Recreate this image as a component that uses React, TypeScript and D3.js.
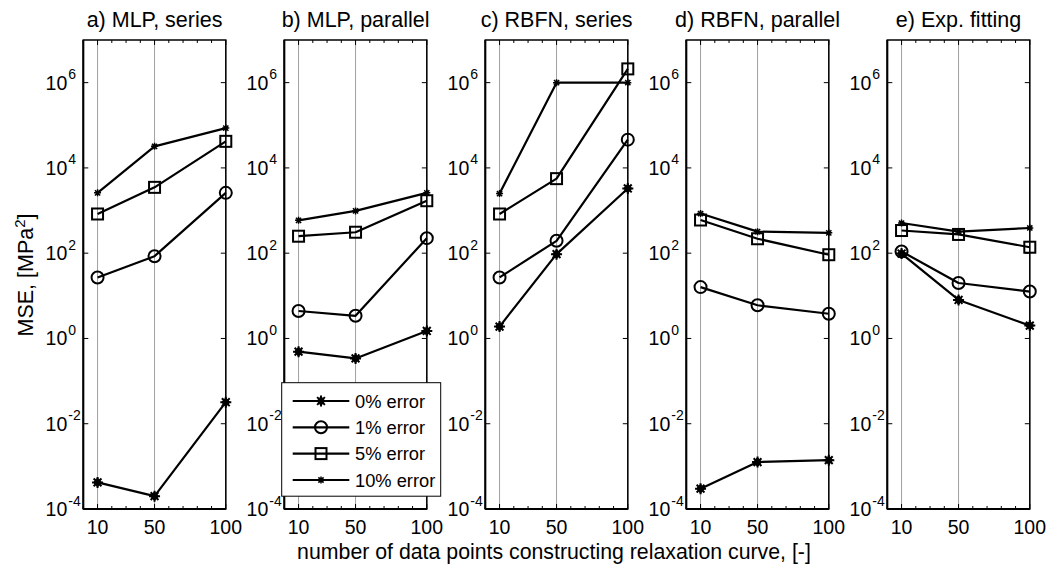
import React from 'react';
import * as d3 from 'd3';

// x positions (number of data points)
const xPoints = [10, 50, 100];

const panelTitles = ['a) MLP, series', 'b) MLP, parallel', 'c) RBFN, series', 'd) RBFN, parallel', 'e) Exp. fitting'];

// MSE per panel (a..e), values at 10 / 50 / 100 points
const mse0 = [
  [4.2e-4, 2e-4, 0.032],
  [0.49, 0.34, 1.5],
  [1.9, 95, 3300],
  [3e-4, 1.26e-3, 1.4e-3],
  [98, 8, 2.0],
];
const mse1 = [
  [27, 85, 2600],
  [4.4, 3.4, 225],
  [27, 195, 4.6e4],
  [16, 6, 3.8],
  [110, 20, 12.6],
];
const mse5 = [
  [830, 3500, 4.2e4],
  [250, 310, 1700],
  [830, 5600, 2.1e6],
  [600, 218, 92],
  [340, 275, 138],
];
const mse10 = [
  [2600, 3.2e4, 8.6e4],
  [590, 980, 2600],
  [2500, 1e6, 1e6],
  [850, 320, 300],
  [510, 320, 390],
];

const seriesNames = ['0% error', '1% error', '5% error', '10% error'];
const seriesMarkers = ['star', 'circle', 'square', 'asterisk'];
const yTickExps = [-4, -2, 0, 2, 4, 6];
const xMinorTicks = d3.range(0, 101, 10);

const FONT = '"Liberation Sans", Arial, sans-serif';

const W = 1055;
const H = 567;
const top = 40;
const bottom = 509;
const panelW = 142.5;
const panelLeft = (i: number) => 83.3 + i * 201;

const x = d3.scaleLinear().domain([0, 100]).range([0, panelW]);
const y = d3.scaleLog().domain([1e-4, 1e7]).range([bottom, top]);

const line = d3.line<[number, number]>()
  .x(d => x(d[0]))
  .y(d => y(d[1]));

function Marker({ kind, cx, cy }: { kind: string; cx: number; cy: number }) {
  if (kind === 'circle') {
    return <circle cx={cx} cy={cy} r={6} fill="none" stroke="#000" strokeWidth={2} />;
  }
  if (kind === 'square') {
    return <rect x={cx - 5.5} y={cy - 5.5} width={11} height={11} fill="none" stroke="#000" strokeWidth={2} />;
  }
  if (kind === 'star') {
    const r = 5.5;
    const d = 3.9;
    return (
      <g stroke="#000" strokeWidth={2}>
        <path d={`M${cx - r},${cy}L${cx + r},${cy}M${cx},${cy - r}L${cx},${cy + r}M${cx - d},${cy - d}L${cx + d},${cy + d}M${cx - d},${cy + d}L${cx + d},${cy - d}`} />
        <path d={`M${cx},${cy - 4.5}L${cx + 4},${cy}L${cx},${cy + 4.5}L${cx - 4},${cy}Z`} fill="#000" strokeWidth={1} />
      </g>
    );
  }
  // small asterisk
  const r = 3.5;
  return (
    <path
      d={`M${cx - r},${cy}L${cx + r},${cy}M${cx - 2.6},${cy - 2.6}L${cx + 2.6},${cy + 2.6}M${cx - 2.6},${cy + 2.6}L${cx + 2.6},${cy - 2.6}M${cx},${cy - r}L${cx},${cy + r}`}
      stroke="#000"
      strokeWidth={1.5}
    />
  );
}

function Panel({ idx }: { idx: number }) {
  const all = [mse0[idx], mse1[idx], mse5[idx], mse10[idx]];
  return (
    <g transform={`translate(${panelLeft(idx)},0)`}>
      {/* vertical grid */}
      {xPoints.map(v => (
        <line key={v} x1={x(v)} x2={x(v)} y1={top} y2={bottom} stroke="#a0a0a0" strokeWidth={1} />
      ))}
      {/* minor x ticks top/bottom */}
      {xMinorTicks.map(v => (
        <g key={v} stroke="#000" strokeWidth={1}>
          <line x1={x(v)} x2={x(v)} y1={bottom} y2={bottom - (xPoints.includes(v) ? 5 : 3)} />
          <line x1={x(v)} x2={x(v)} y1={top} y2={top + (xPoints.includes(v) ? 5 : 3)} />
        </g>
      ))}
      {/* y ticks */}
      {yTickExps.map(e => (
        <g key={e} stroke="#000" strokeWidth={1}>
          <line x1={0} x2={5} y1={y(Math.pow(10, e))} y2={y(Math.pow(10, e))} />
          <line x1={panelW} x2={panelW - 5} y1={y(Math.pow(10, e))} y2={y(Math.pow(10, e))} />
        </g>
      ))}
      {/* frame */}
      <rect x={0} y={top} width={panelW} height={bottom - top} fill="none" stroke="#000" strokeWidth={1.5} />
      <line x1={0} x2={0} y1={top} y2={bottom} stroke="#000" strokeWidth={2} />
      <line x1={0} x2={panelW} y1={bottom} y2={bottom} stroke="#000" strokeWidth={2} />

      {/* series */}
      {all.map((vals, s) => {
        const pts = xPoints.map((xv, k) => [xv, vals[k]] as [number, number]);
        return (
          <g key={s}>
            <path d={line(pts) || ''} fill="none" stroke="#000" strokeWidth={2.2} strokeLinejoin="round" />
            {pts.map((p, k) => (
              <Marker key={k} kind={seriesMarkers[s]} cx={x(p[0])} cy={y(p[1])} />
            ))}
          </g>
        );
      })}

      {/* y tick labels */}
      {yTickExps.map(e => (
        <g key={e} fontFamily={FONT} fill="#000">
          <text x={-16} y={y(Math.pow(10, e)) + 7} textAnchor="end" fontSize={19.5}>10</text>
          <text x={-15} y={y(Math.pow(10, e)) - 3.5} textAnchor="start" fontSize={14}>{e}</text>
        </g>
      ))}
      {/* x tick labels */}
      {xPoints.map(v => (
        <text key={v} x={x(v)} y={533.5} textAnchor="middle" fontFamily={FONT} fontSize={19.5}>{v}</text>
      ))}
      {/* title */}
      <text x={panelW / 2} y={27} textAnchor="middle" fontFamily={FONT} fontSize={21.5}>{panelTitles[idx]}</text>
    </g>
  );
}

export default function App() {
  const legendX = 281.7;
  const legendY = 382.7;
  const legendRows = [401, 427.3, 453.6, 480];
  return (
    <svg width={W} height={H} style={{ position: 'absolute', left: 0, top: 0, background: '#fff' }}>
      <rect width={W} height={H} fill="#fff" />
      {panelTitles.map((_, i) => <Panel key={i} idx={i} />)}

      {/* y axis label */}
      <text
        transform="translate(33,275) rotate(-90)"
        textAnchor="middle"
        fontFamily={FONT}
        fontSize={21.5}
      >
        MSE, [MPa<tspan dy={-8} fontSize={15}>2</tspan><tspan dy={8}>]</tspan>
      </text>

      {/* x axis label */}
      <text x={554} y={559} textAnchor="middle" fontFamily={FONT} fontSize={21.3}>
        number of data points constructing relaxation curve, [-]
      </text>

      {/* legend */}
      <g>
        <rect x={legendX} y={legendY} width={159} height={113.5} fill="#fff" stroke="#000" strokeWidth={1} />
        {seriesNames.map((name, i) => (
          <g key={name}>
            <line x1={292.7} x2={349.3} y1={legendRows[i]} y2={legendRows[i]} stroke="#000" strokeWidth={2.2} />
            <Marker kind={seriesMarkers[i]} cx={321} cy={legendRows[i]} />
            <text x={355} y={legendRows[i] + 6.5} fontFamily={FONT} fontSize={18.3}>{name}</text>
          </g>
        ))}
      </g>
    </svg>
  );
}
